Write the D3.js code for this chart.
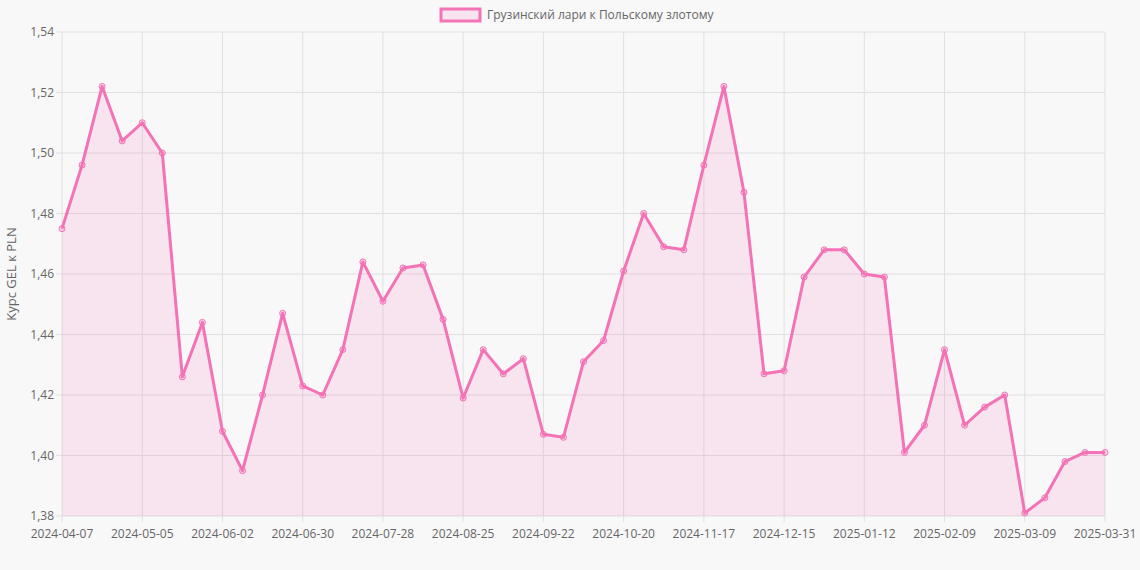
<!DOCTYPE html>
<html><head><meta charset="utf-8">
<script src="https://d3js.org/d3.v7.min.js"></script>
<style>body{margin:0;background:#f8f8f8;font-family:"Open Sans",Arial,sans-serif;}</style>
</head><body>
<svg id="c" width="1140" height="570"></svg>
<script>
(function () {
// weekly labels, last one is the end-of-period date
const labels = [];
for (let i = 0; i < 52; i++) {
    const d = new Date(Date.UTC(2024, 3, 7) + i*7*86400000);
    labels.push(d.toISOString().slice(0,10));
}
labels.push("2025-03-31");

const values = [1.475,1.496,1.522,1.504,1.510,1.500,1.426,1.444,1.408,1.395,
    1.420,1.447,1.423,1.420,1.435,1.464,1.451,1.462,1.463,1.445,
    1.419,1.435,1.427,1.432,1.407,1.406,1.431,1.438,1.461,1.480,
    1.469,1.468,1.496,1.522,1.487,1.427,1.428,1.459,1.468,1.468,
    1.460,1.459,1.401,1.410,1.435,1.410,1.416,1.420,1.381,1.386,
    1.398,1.401,1.401];
const yTicks = [1.38,1.40,1.42,1.44,1.46,1.48,1.50,1.52,1.54];

const pLeft = 62, pRight = 1105, pTop = 32, pBottom = 516;
const svg = d3.select("#c");
const x = d3.scalePoint().domain(labels).range([pLeft, pRight]);
const y = d3.scaleLinear().domain([1.38, 1.54]).range([pBottom, pTop]);
const fmt = v => d3.format(".2f")(v).replace(".", ",");
const shown = labels.filter((d,i) => i%4 == 0 || i == labels.length-1);

// grid
svg.append("g").selectAll("line").data(yTicks).enter().append("line")
    .attr("x1", pLeft-6).attr("x2", pRight).attr("y1", d => y(d)).attr("y2", d => y(d))
    .attr("stroke", "#e0e0e0");
svg.append("g").selectAll("line").data(shown).enter().append("line")
    .attr("x1", d => x(d)).attr("x2", d => x(d)).attr("y1", pTop).attr("y2", pBottom+6)
    .attr("stroke", "#e0e0e0");

svg.append("g").selectAll("text").data(yTicks).enter().append("text")
    .attr("x", pLeft-8).attr("y", d => y(d)+4).attr("text-anchor", "end")
    .attr("font-size", 12).attr("fill", "#666").text(fmt);
svg.append("g").selectAll("text").data(shown).enter().append("text")
    .attr("x", d => x(d)).attr("y", pBottom+22).attr("text-anchor", "middle")
    .attr("font-size", 12).attr("fill", "#666").text(d => d);

svg.append("text").attr("transform", `translate(16,${(pTop+pBottom)/2}) rotate(-90)`)
    .attr("text-anchor", "middle").attr("font-size", 13).attr("fill", "#666")
    .text("Курс GEL к PLN");

const area = d3.area().x((d,i) => x(labels[i])).y0(pBottom).y1(d => y(d));
const line = d3.line().x((d,i) => x(labels[i])).y(d => y(d));
svg.append("path").datum(values).attr("d", area).attr("fill", "rgba(244,114,182,0.15)");
svg.append("path").datum(values).attr("d", line).attr("fill", "none")
    .attr("stroke", "#f472b6").attr("stroke-width", 3).attr("stroke-linejoin", "round");
svg.append("g").selectAll("circle").data(values).enter().append("circle")
    .attr("cx", (d,i) => x(labels[i])).attr("cy", d => y(d)).attr("r", 3)
    .attr("fill", "rgba(244,114,182,0.25)").attr("stroke", "#f472b6").attr("stroke-width", 1);

// legend
svg.append("rect").attr("x", 441).attr("y", 9).attr("width", 39).attr("height", 12)
    .attr("fill", "rgba(244,114,182,0.15)").attr("stroke", "#f472b6").attr("stroke-width", 3);
svg.append("text").attr("x", 487).attr("y", 19).attr("font-size", 12).attr("fill", "#666")
    .text("Грузинский лари к Польскому злотому");
})();
</script>
</body></html>
